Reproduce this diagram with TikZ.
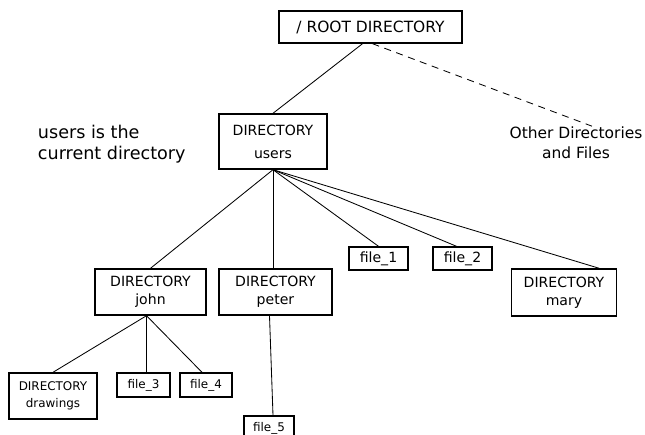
\documentclass[tikz,border=0pt]{standalone}
\usepackage{fontspec}
\setmainfont{DejaVu Sans}

\tikzset{
  dirbox/.style={draw, line width=1pt, align=center, inner sep=2pt, font=\fontsize{10}{12.5}\selectfont},
  filebox/.style={draw, line width=1pt, inner sep=2pt, minimum height=6mm, font=\fontsize{8.5}{10}\selectfont},
  sidetext/.style={align=center, font=\fontsize{12.5}{15}\selectfont},
  link/.style={line width=0.6pt},
}

\begin{document}
\begin{tikzpicture}[x=0.25mm, y=-0.25mm]
\useasboundingbox (0,0) rectangle (645,435);

% Root directory
\node[dirbox, minimum width=45.75mm, minimum height=8mm, font=\fontsize{11}{13}\selectfont] (root) at (370.5,27) {/ ROOT DIRECTORY};

% Current directory
\node[dirbox, minimum width=27mm, minimum height=13.75mm] (users) at (273,141.5) {DIRECTORY\\[4pt]users};
\node[sidetext, align=left, anchor=west] (note) at (33,144) {users is the\\current directory};
\node[sidetext, font=\fontsize{11}{14}\selectfont] (other) at (576,143) {Other Directories\\and Files};

% Subdirectories of users
\node[dirbox, minimum width=27.75mm, minimum height=11.5mm] (john) at (150.5,292) {DIRECTORY\\john};
\node[dirbox, minimum width=28.25mm, minimum height=11.5mm] (peter) at (275.5,292) {DIRECTORY\\peter};
\node[dirbox, minimum width=26.25mm, minimum height=11.75mm] (mary) at (564,292.5) {DIRECTORY\\mary};
\node[filebox, minimum width=14.75mm, minimum height=5.75mm, font=\fontsize{10}{12}\selectfont] (file1) at (378.5,258.5) {file\_1};
\node[filebox, minimum width=14.75mm, minimum height=5.75mm, font=\fontsize{10}{12}\selectfont] (file2) at (462.5,258.5) {file\_2};

% Contents of john and peter
\node[dirbox, minimum width=22mm, minimum height=11.5mm, font=\fontsize{8.5}{12}\selectfont] (drawings) at (53,396) {DIRECTORY\\drawings};
\node[filebox, minimum width=13.25mm] (file3) at (143.5,385) {file\_3};
\node[filebox, minimum width=13mm] (file4) at (206,385) {file\_4};
\node[filebox, minimum width=12.5mm] (file5) at (269,428) {file\_5};

% Connections
\draw[link] ([xshift=-2mm]root.south) -- (users.north);
\draw[link, dash pattern=on 5pt off 4pt] ([xshift=0.5mm]root.south) -- ([xshift=4mm,yshift=-1mm]other.north);
\draw[link] (users.south) -- (john.north);
\draw[link] (users.south) -- (users.south |- peter.north);
\draw[link] (users.south) -- (file1.north);
\draw[link] (users.south) -- ([xshift=-1.5mm]file2.north);
\draw[link] (users.south) -- ([xshift=-4.5mm]mary.north east);
\draw[link] ([xshift=-1mm]john.south) -- (drawings.north);
\draw[link] ([xshift=-1mm]john.south) -- ([xshift=-1mm]john.south |- file3.north);
\draw[link] ([xshift=-1mm]john.south) -- ([xshift=-1mm]file4.north);
\draw[link] ([xshift=-1.5mm]peter.south) -- ([xshift=1mm]file5.north);

\end{tikzpicture}
\end{document}
